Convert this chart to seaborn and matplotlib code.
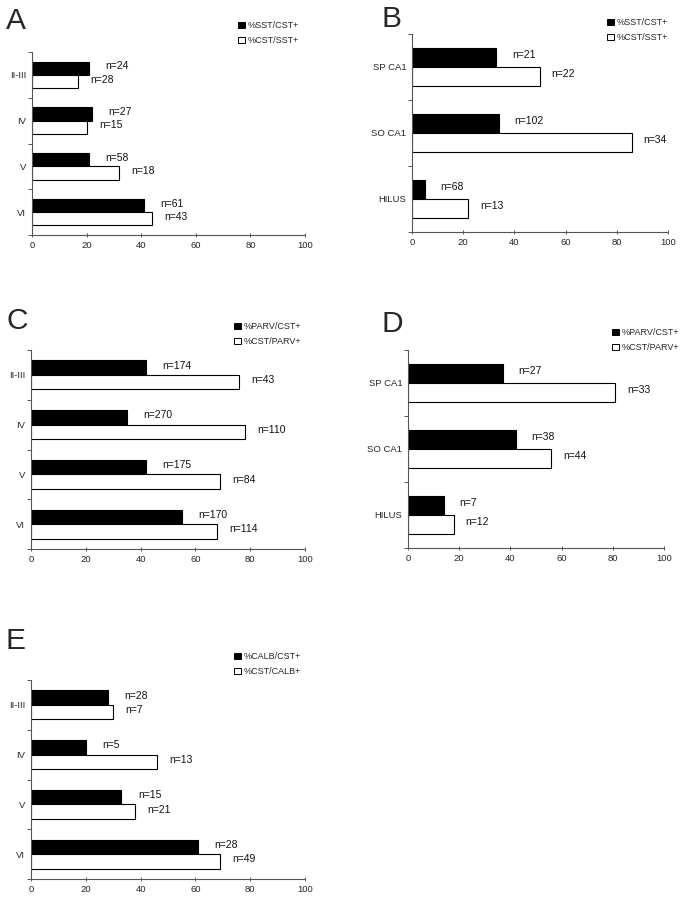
import matplotlib
matplotlib.use("Agg")
import matplotlib.pyplot as plt
import seaborn as sns
import pandas as pd
from matplotlib.patches import Patch

# categories
layers = ["II-III", "IV", "V", "VI"]
hippo = ["SP CA1", "SO CA1", "HILUS"]

# panel A: SST / CST in neocortex
a_black = [21, 22, 21, 41]
a_white = [17, 20, 32, 44]
a_n_black = [24, 27, 58, 61]
a_n_white = [28, 15, 18, 43]

# panel B: SST / CST in hippocampus
b_black = [33, 34, 5]
b_white = [50, 86, 22]
b_n_black = [21, 102, 68]
b_n_white = [22, 34, 13]

# panel C: PARV / CST in neocortex
c_black = [42, 35, 42, 55]
c_white = [76, 78, 69, 68]
c_n_black = [174, 270, 175, 170]
c_n_white = [43, 110, 84, 114]

# panel D: PARV / CST in hippocampus
d_black = [37, 42, 14]
d_white = [81, 56, 18]
d_n_black = [27, 38, 7]
d_n_white = [33, 44, 12]

# panel E: CALB / CST in neocortex
e_black = [28, 20, 33, 61]
e_white = [30, 46, 38, 69]
e_n_black = [28, 5, 15, 28]
e_n_white = [7, 13, 21, 49]

sst_labels = ["%SST/CST+", "%CST/SST+"]
parv_labels = ["%PARV/CST+", "%CST/PARV+"]
calb_labels = ["%CALB/CST+", "%CST/CALB+"]

sns.set_style("ticks")
plt.rcParams["font.family"] = ["Liberation Sans", "DejaVu Sans"]

W, H = 681, 899
fig = plt.figure(figsize=(W / 100, H / 100), dpi=100)


def px_axes(left, top, right, bottom):
    """Axes from pixel box (origin top-left)."""
    return fig.add_axes([left / W, 1 - bottom / H, (right - left) / W, (bottom - top) / H])


def draw_panel(ax, cats, black, white, n_black, n_white, labels, letter, letter_xy, legend_xy):
    df = pd.DataFrame({
        "region": cats * 2,
        "value": black + white,
        "series": [labels[0]] * len(cats) + [labels[1]] * len(cats),
    })
    sns.barplot(
        data=df, y="region", x="value", hue="series", order=cats, hue_order=labels,
        palette={labels[0]: "black", labels[1]: "white"}, edgecolor="black",
        linewidth=0.8, width=0.58, errorbar=None, legend=False, ax=ax,
    )

    # n= labels to the right of each bar
    for cont, nums, off in zip(ax.containers, [n_black, n_white], [6, 4.5]):
        for bar, n in zip(cont, nums):
            yc = bar.get_y() + bar.get_height() / 2
            ax.text(bar.get_width() + off, yc - 0.04, f"n={n}", ha="left", va="center",
                    fontsize=7.5, color="#111111")

    n = len(cats)
    ax.set_xlim(0, 100)
    ax.set_ylim(n - 0.5, -0.5)
    ax.set_xticks(range(0, 101, 20))
    ax.set_yticks([i - 0.5 for i in range(n + 1)], minor=True)
    ax.tick_params(axis="y", which="major", length=0, pad=4, labelsize=6.8)
    ax.tick_params(axis="y", which="minor", length=3, width=0.7, color="#555555")
    ax.tick_params(axis="x", which="major", length=3, width=0.7, color="#555555",
                   direction="inout", labelsize=6.8, pad=3)
    ax.set_xlabel("")
    ax.set_ylabel("")
    for s in ["top", "right"]:
        ax.spines[s].set_visible(False)
    for s in ["left", "bottom"]:
        ax.spines[s].set_color("#555555")
        ax.spines[s].set_linewidth(0.8)

    handles = [Patch(facecolor="black", edgecolor="black", linewidth=0.7),
               Patch(facecolor="white", edgecolor="black", linewidth=0.7)]
    fig.legend(handles, labels, loc="upper left",
               bbox_to_anchor=(legend_xy[0] / W, 1 - legend_xy[1] / H),
               frameon=False, fontsize=6.5, handlelength=0.75, handleheight=0.75,
               handletextpad=0.3, labelspacing=0.7, borderpad=0, borderaxespad=0)

    fig.text(letter_xy[0] / W, 1 - letter_xy[1] / H, letter, fontsize=21.5,
             ha="left", va="baseline")


ax_a = px_axes(32, 52, 305, 235)
draw_panel(ax_a, layers, a_black, a_white, a_n_black, a_n_white, sst_labels,
           "A", (6, 29), (238, 21))

ax_b = px_axes(412, 34, 668, 232)
draw_panel(ax_b, hippo, b_black, b_white, b_n_black, b_n_white, sst_labels,
           "B", (382, 27), (607, 18))

ax_c = px_axes(31, 350, 305, 549)
draw_panel(ax_c, layers, c_black, c_white, c_n_black, c_n_white, parv_labels,
           "C", (6, 329), (234, 322))

ax_d = px_axes(408, 350, 664, 548)
draw_panel(ax_d, hippo, d_black, d_white, d_n_black, d_n_white, parv_labels,
           "D", (382, 332), (612, 328))

ax_e = px_axes(31, 680, 305, 879)
draw_panel(ax_e, layers, e_black, e_white, e_n_black, e_n_white, calb_labels,
           "E", (6, 649), (234, 652))

fig.savefig("out.png", dpi=100)
